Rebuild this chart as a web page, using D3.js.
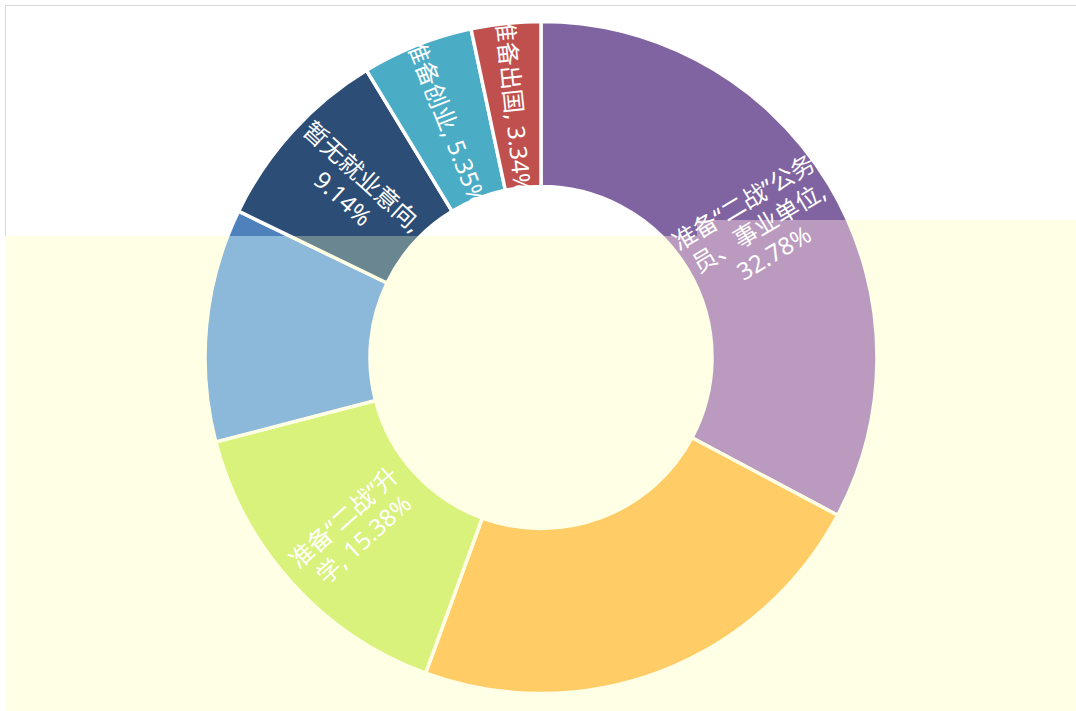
<!DOCTYPE html>
<html><head><meta charset="utf-8">
<script src="https://cdn.jsdelivr.net/npm/d3@7"></script>
<style>html,body{margin:0;padding:0;background:#fff;}svg{display:block;}</style>
</head><body>
<svg id="chart" width="1076" height="711"></svg>
<script>
// ---- data ----
const categories = ["准备“二战”公务员、事业单位", "其他A", "准备“二战”升学", "其他B", "暂无就业意向", "准备创业", "准备出国"];
const values = [32.78, 22.80, 15.38, 11.21, 9.14, 5.35, 3.34];
const labelLines = [
  ["准备“二战”公务", "员、事业单位,", "32.78%"],
  [],
  ["准备“二战”升", "学, 15.38%"],
  [],
  ["暂无就业意向,", "9.14%"],
  ["准备创业, 5.35%"],
  ["准备出国, 3.34%"]
];
const colorsTop = ["#8064A2", "#FFCC66", "#9BBB59", "#4F81BD", "#2C4D75", "#4BACC6", "#C0504D"];
const colorsWashed = ["#BA9ABF", "#FFCC66", "#D9F27B", "#8CB8DA", "#6A8691", "#93CCDA", "#D99592"];

// ---- layout ----
const W = 1076, H = 711;
const cx = 541, cy = 357.5, rOuter = 336, rInner = 171;
const stepX = 697, yLeft = 236, yRight = 220;
const washBg = "#FFFFE6";

const svg = d3.select("#chart");
const defs = svg.append("defs");

defs.append("clipPath").attr("id", "clipUpper").append("path")
  .attr("d", `M0,0H${W}V${yRight}H${stepX}V${yLeft}H0Z`);
defs.append("clipPath").attr("id", "clipLower").append("path")
  .attr("d", `M5,${yLeft}H${stepX}V${yRight}H${W}V${H}H5Z`);

// backgrounds
svg.append("rect").attr("width", W).attr("height", H).attr("fill", "#fff");
svg.append("path").attr("d", `M5,${yLeft}H${stepX}V${yRight}H${W}V${H}H5Z`).attr("fill", washBg);
svg.append("path").attr("d", `M5.5,${yLeft}V5.5H${W}`).attr("fill", "none").attr("stroke", "#D9D9D9").attr("stroke-width", 1);

const pie = d3.pie().sort(null).value(d => d)(values);
const arc = d3.arc().innerRadius(rInner).outerRadius(rOuter);
const color = d3.scaleOrdinal().domain(d3.range(values.length)).range(colorsTop);
const colorW = d3.scaleOrdinal().domain(d3.range(values.length)).range(colorsWashed);

// upper (unwashed)
const gUp = svg.append("g").attr("clip-path", "url(#clipUpper)")
  .append("g").attr("transform", `translate(${cx},${cy})`);
gUp.selectAll("path").data(pie).join("path")
  .attr("d", arc).attr("fill", (d, i) => color(i))
  .attr("stroke", "#fff").attr("stroke-width", 3.5).attr("stroke-linejoin", "round");

// lower (washed)
const gLo = svg.append("g").attr("clip-path", "url(#clipLower)")
  .append("g").attr("transform", `translate(${cx},${cy})`);
gLo.selectAll("path").data(pie).join("path")
  .attr("d", arc).attr("fill", (d, i) => colorW(i))
  .attr("stroke", washBg).attr("stroke-width", 3.5).attr("stroke-linejoin", "round");

// slice clips for labels
const gLab = svg.append("g").attr("transform", `translate(${cx},${cy})`);
pie.forEach((d, i) => {
  defs.append("clipPath").attr("id", "sl" + i).append("path").attr("d", arc(d));
});

const rMid = (rInner + rOuter) / 2;
const lh = 29.5;
pie.forEach((d, i) => {
  const lines = labelLines[i];
  if (!lines.length) return;
  const mid = (d.startAngle + d.endAngle) / 2;
  const deg = mid * 180 / Math.PI;
  const x = rMid * Math.sin(mid), y = -rMid * Math.cos(mid);
  const rot = deg < 180 ? deg - 90 : deg + 90;
  const t = gLab.append("g").attr("clip-path", `url(#sl${i})`)
    .append("text")
    .attr("transform", `translate(${x},${y}) rotate(${rot})`)
    .attr("text-anchor", "middle")
    .attr("fill", "#fff")
    .style("font-family", "'Noto Sans','Noto Sans CJK SC',sans-serif")
    .style("font-size", "24px");
  lines.forEach((ln, k) => {
    t.append("tspan").attr("x", 0)
      .attr("y", (k - (lines.length - 1) / 2) * lh)
      .attr("dominant-baseline", "central")
      .text(ln);
  });
});
</script>
</body></html>
